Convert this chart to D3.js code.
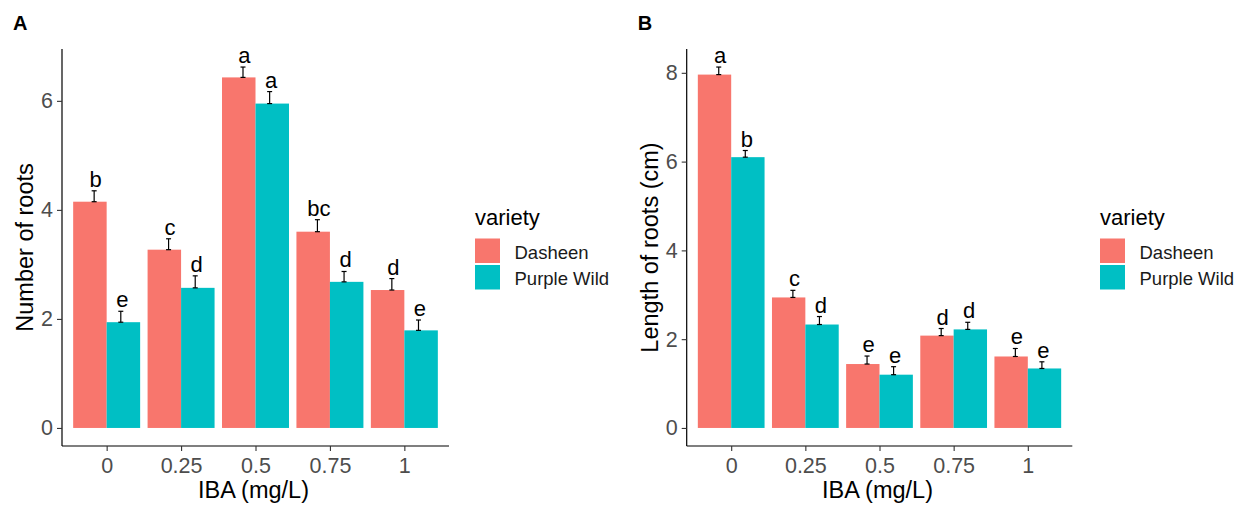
<!DOCTYPE html>
<html>
<head>
<meta charset="utf-8">
<script src="https://cdn.jsdelivr.net/npm/d3@7"></script>
<style>
  body { margin: 0; background: #fff; }
  svg { display: block; font-family: "Liberation Sans", Arial, sans-serif; }
</style>
</head>
<body>
<svg id="chart" width="1236" height="505"></svg>
<script>
const doses = ["0", "0.25", "0.5", "0.75", "1"]
const varieties = ["Dasheen", "Purple Wild"]
const colors = ["#F8766D", "#00BFC4"]

// panel A: number of roots
const rootsDasheen = [4.15, 3.27, 6.43, 3.60, 2.53]
const rootsPurple = [1.94, 2.57, 5.95, 2.68, 1.79]
const rootsDasheenSe = [0.20, 0.20, 0.19, 0.22, 0.21]
const rootsPurpleSe = [0.20, 0.22, 0.22, 0.19, 0.19]
const rootsDasheenLetters = ["b", "c", "a", "bc", "d"]
const rootsPurpleLetters = ["e", "d", "a", "d", "e"]
const rootsTicks = [0, 2, 4, 6]

// panel B: length of roots
const lengthDasheen = [7.96, 2.94, 1.44, 2.08, 1.61]
const lengthPurple = [6.10, 2.33, 1.20, 2.22, 1.34]
const lengthDasheenSe = [0.17, 0.16, 0.18, 0.16, 0.18]
const lengthPurpleSe = [0.15, 0.18, 0.18, 0.16, 0.15]
const lengthDasheenLetters = ["a", "c", "e", "d", "e"]
const lengthPurpleLetters = ["b", "d", "e", "d", "e"]
const lengthTicks = [0, 2, 4, 6, 8]

const svg = d3.select("#chart")

function drawPanel(opts) {
    const { tag, left, right, top, bottom, yMax, ticks, values, errors, letters, yTitle, legendX } = opts

    const g = svg.append("g")

    const x = d3.scalePoint().domain(doses).range([left, right]).padding(0.6)
    const step = x.step()
    const barW = step * 0.45
    // extend by 5% like ggplot
    const y = d3.scaleLinear().domain([-yMax * 0.05, yMax * 1.05]).range([bottom, top])

    // bars
    varieties.forEach((v, vi) => {
        g.append("g")
            .selectAll("rect")
            .data(doses)
            .join("rect")
            .attr("x", d => x(d) - barW + vi * barW)
            .attr("y", (d, i) => y(values[vi][i]))
            .attr("width", barW)
            .attr("height", (d, i) => y(0) - y(values[vi][i]))
            .attr("fill", colors[vi])
    })

    // error bars (upper half only)
    const errOffset = [-0.168 * step, 0.19 * step]
    varieties.forEach((v, vi) => {
        const eg = g.append("g").attr("stroke", "#000").attr("stroke-width", 1.2)
        doses.forEach((d, i) => {
            const cx = x(d) + errOffset[vi]
            const y0 = y(values[vi][i])
            const y1 = y(values[vi][i] + errors[vi][i])
            eg.append("line").attr("x1", cx).attr("x2", cx).attr("y1", y0).attr("y2", y1)
            eg.append("line").attr("x1", cx - 2.5).attr("x2", cx + 2.5).attr("y1", y0).attr("y2", y0)
            eg.append("line").attr("x1", cx - 2.5).attr("x2", cx + 2.5).attr("y1", y1).attr("y2", y1)
        })
        g.append("g")
            .selectAll("text")
            .data(doses)
            .join("text")
            .attr("x", d => x(d) + errOffset[vi] + 1.5)
            .attr("y", (d, i) => y(values[vi][i] + errors[vi][i]) - 4)
            .attr("text-anchor", "middle")
            .attr("font-size", 22)
            .attr("fill", "#000")
            .text((d, i) => letters[vi][i])
    })

    // axes
    const yAxis = g.append("g")
        .attr("transform", `translate(${left},0)`)
        .call(d3.axisLeft(y).tickValues(ticks).tickSize(5).tickPadding(4).tickFormat(d3.format("d")))
    yAxis.select(".domain").attr("d", `M0,${bottom}V${top}`).attr("stroke", "#000").attr("stroke-width", 1.2)

    const xAxis = g.append("g")
        .attr("transform", `translate(0,${bottom})`)
        .call(d3.axisBottom(x).tickSize(5).tickPadding(7))
    xAxis.select(".domain").attr("d", `M${left},0H${right}`).attr("stroke", "#000").attr("stroke-width", 1.2)

    g.selectAll(".tick line").attr("stroke", "#333").attr("stroke-width", 1.1)
    g.selectAll(".tick text")
        .attr("font-size", 21.5)
        .attr("fill", "#4D4D4D")
        .attr("font-family", "Liberation Sans, Arial, sans-serif")

    // axis titles
    g.append("text")
        .attr("x", (left + right) / 2 - 2)
        .attr("y", 498)
        .attr("text-anchor", "middle")
        .attr("font-size", 23.5)
        .attr("fill", "#000")
        .text("IBA (mg/L)")

    g.append("text")
        .attr("transform", `translate(${left - 29},${(top + bottom) / 2}) rotate(-90)`)
        .attr("text-anchor", "middle")
        .attr("font-size", 23.5)
        .attr("fill", "#000")
        .text(yTitle)

    // panel tag
    g.append("text")
        .attr("x", left - 49)
        .attr("y", 30)
        .attr("font-size", 20)
        .attr("font-weight", "bold")
        .attr("fill", "#000")
        .text(tag)

    // legend
    const lg = g.append("g").attr("transform", `translate(${legendX},0)`)
    lg.append("text")
        .attr("x", 0)
        .attr("y", 225)
        .attr("font-size", 22)
        .attr("fill", "#000")
        .text("variety")
    varieties.forEach((v, vi) => {
        const ky = 238.5 + vi * 26.5
        lg.append("rect")
            .attr("x", 0).attr("y", ky)
            .attr("width", 25).attr("height", 24.5)
            .attr("fill", colors[vi])
        lg.append("text")
            .attr("x", 39.5)
            .attr("y", ky + 20)
            .attr("font-size", 18.5)
            .attr("fill", "#1A1A1A")
            .text(v)
    })
}

drawPanel({
    tag: "A", left: 62, right: 449, top: 49, bottom: 446,
    yMax: 6.62, ticks: rootsTicks,
    values: [rootsDasheen, rootsPurple],
    errors: [rootsDasheenSe, rootsPurpleSe],
    letters: [rootsDasheenLetters, rootsPurpleLetters],
    yTitle: "Number of roots", legendX: 475
})

drawPanel({
    tag: "B", left: 686.7, right: 1072.3, top: 49, bottom: 446,
    yMax: 8.13, ticks: lengthTicks,
    values: [lengthDasheen, lengthPurple],
    errors: [lengthDasheenSe, lengthPurpleSe],
    letters: [lengthDasheenLetters, lengthPurpleLetters],
    yTitle: "Length of roots (cm)", legendX: 1100
})
</script>
</body>
</html>
